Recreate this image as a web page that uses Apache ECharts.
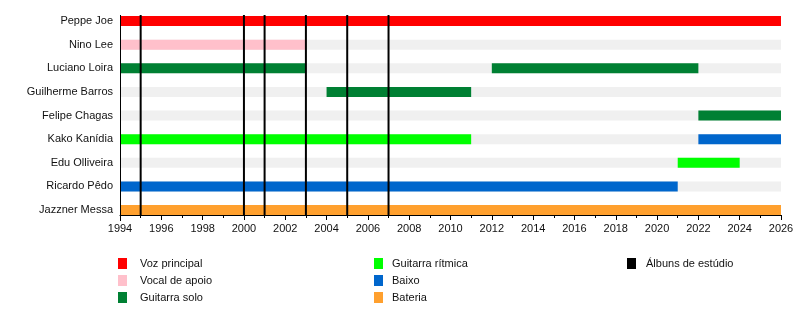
<!DOCTYPE html>
<html><head><meta charset="utf-8">
<script src="https://cdn.jsdelivr.net/npm/echarts@6/dist/echarts.min.js"></script>
<style>html,body{margin:0;padding:0;background:#fff}#c{width:800px;height:335px}</style>
</head><body><div id="c"></div>
<script>
const members = ['Peppe Joe','Nino Lee','Luciano Loira','Guilherme Barros','Felipe Chagas','Kako Kanídia','Edu Olliveira','Ricardo Pêdo','Jazzner Messa'];
const yearStart = 1994, yearEnd = 2026;
const roleNames = ['Voz principal','Vocal de apoio','Guitarra solo','Guitarra rítmica','Baixo','Bateria'];
const roleColors = ['#ff0000','#ffc0cb','#008033','#00ff00','#0066cc','#ffa02e'];
const vozPrincipal = [['Peppe Joe',1994,2026]];
const vocalDeApoio = [['Nino Lee',1994,2003]];
const guitarraSolo = [['Luciano Loira',1994,2003],['Luciano Loira',2012,2022],['Guilherme Barros',2004,2011],['Felipe Chagas',2022,2026]];
const guitarraRitmica = [['Kako Kanídia',1994,2011],['Edu Olliveira',2021,2024]];
const baixo = [['Kako Kanídia',2022,2026],['Ricardo Pêdo',1994,2021]];
const bateria = [['Jazzner Messa',1994,2026]];
const rolePeriods = [vozPrincipal, vocalDeApoio, guitarraSolo, guitarraRitmica, baixo, bateria];
const albumName = 'Álbuns de estúdio';
const albumYears = [1995,2000,2001,2003,2005,2007];

const font = 'Liberation Sans, Arial, sans-serif';
const BAR_H = 10;

function barRender(color){
  return function(params, api){
    const y = api.value(0);
    const a = api.coord([api.value(1), y]);
    const b = api.coord([api.value(2), y]);
    return {type:'rect', shape:{x:a[0], y:a[1]-BAR_H/2, width:b[0]-a[0], height:BAR_H}, style:{fill:color}};
  };
}

const series = [];
series.push({
  type:'custom', name:'bg', silent:true, clip:false,
  data: members.map(m => [m, yearStart, yearEnd]),
  encode:{x:[1,2], y:0},
  renderItem: barRender('#f0f0f0')
});
rolePeriods.forEach((periods, i) => {
  series.push({
    type:'custom', name: roleNames[i], clip:false,
    itemStyle:{color: roleColors[i]},
    data: periods,
    encode:{x:[1,2], y:0},
    renderItem: barRender(roleColors[i])
  });
});
series.push({
  type:'custom', name: albumName, clip:false,
  itemStyle:{color:'#000'},
  data: albumYears.map(y => [y]),
  encode:{x:0},
  renderItem: function(params, api){
    const t = api.coord([api.value(0), 0]);
    const b = api.coord([api.value(0), members.length-1]);
    return {type:'line', shape:{x1:t[0], y1:t[1]-6, x2:b[0], y2:b[1]+6}, style:{stroke:'#000', lineWidth:2}};
  }
});
series.push({
  type:'custom', name:'yline', silent:true, clip:false,
  data: [[yearStart]],
  encode:{x:0},
  renderItem: function(params, api){
    const t = api.coord([api.value(0), 0]);
    const b = api.coord([api.value(0), members.length-1]);
    const x = Math.round(t[0]) + 0.5;
    return {type:'line', shape:{x1:x, y1:t[1]-6, x2:x, y2:b[1]+11}, style:{stroke:'#000', lineWidth:1}};
  }
});

function legend(left, names, pad){
  return {
    left:left, top:258, orient:'vertical', padding:0,
    data:names, icon:'rect', itemWidth:9, itemHeight:11, itemGap:6,
    selectedMode:false,
    textStyle:{fontFamily:font, fontSize:11, color:'#111', padding:[0,0,0,pad]}
  };
}

const chart = echarts.init(document.getElementById('c'), null, {renderer:'canvas'});
chart.setOption({
  animation:false,
  backgroundColor:'#fff',
  grid:{left:120, right:19, top:21, height:189},
  xAxis:{
    type:'value', min:yearStart, max:yearEnd, interval:2, offset:5,
    axisLine:{show:true, lineStyle:{color:'#000', width:1}},
    axisTick:{show:true, length:5, lineStyle:{color:'#000'}},
    minorTick:{show:true, splitNumber:2, length:3, lineStyle:{color:'#000'}},
    splitLine:{show:false},
    axisLabel:{fontFamily:font, fontSize:11, color:'#111', margin:8, formatter: v => String(v)}
  },
  yAxis:{
    type:'category', data:members, inverse:true, boundaryGap:false,
    axisLine:{show:false}, axisTick:{show:false}, splitLine:{show:false},
    axisLabel:{fontFamily:font, fontSize:11, color:'#111', margin:7}
  },
  legend:[
    legend(118, roleNames.slice(0,3), 8),
    legend(374, roleNames.slice(3,6), 4),
    legend(627, [albumName], 5)
  ],
  series: series
});
</script></body></html>
